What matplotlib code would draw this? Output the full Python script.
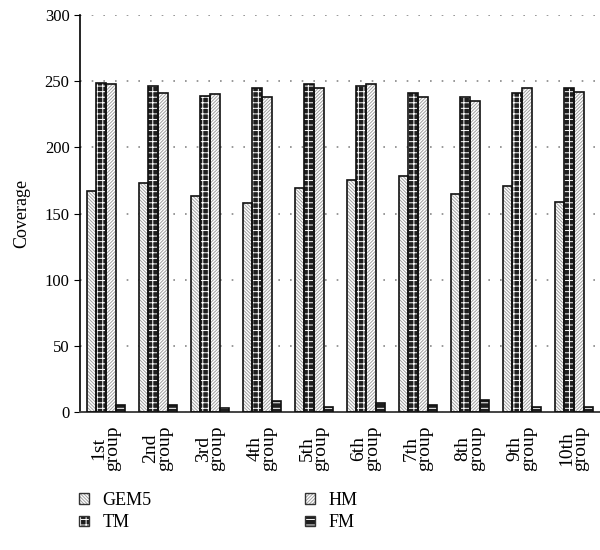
import matplotlib.pyplot as plt
import numpy as np
from matplotlib.patches import Patch
from matplotlib.legend_handler import HandlerTuple

plt.rcParams['font.family'] = ['Liberation Serif', 'DejaVu Serif']
plt.rcParams['hatch.linewidth'] = 0.7

groups = ['1st\ngroup', '2nd\ngroup', '3rd\ngroup', '4th\ngroup', '5th\ngroup',
          '6th\ngroup', '7th\ngroup', '8th\ngroup', '9th\ngroup', '10th\ngroup']
gem5 = [167, 173, 163, 158, 169, 175, 178, 165, 171, 159]
tm = [249, 246, 239, 245, 248, 246, 241, 238, 241, 245]
hm = [248, 241, 240, 238, 245, 248, 238, 235, 245, 242]
fm = [5, 5, 3, 8, 4, 7, 5, 9, 4, 4]

series = [
    ('GEM5', gem5, 'white', '#a0a0a0', '\\' * 10),
    ('TM', tm, '#1e1e1e', 'white', '+++'),
    ('HM', hm, 'white', '#a0a0a0', '/' * 10),
    ('FM', fm, '#1e1e1e', 'white', '---'),
]

fig = plt.figure(figsize=(6, 5.5), dpi=100)
ax = fig.add_axes([0.1333, 0.2509, 0.8667, 0.7218])

x = np.arange(len(groups))
w = 0.185
handles = []
for i, (name, vals, fc, hc, hatch) in enumerate(series):
    pos = x + (i - 1.5) * w
    # hatch layer first, then a plain outline on top
    ax.bar(pos, vals, w, facecolor=fc, edgecolor=hc, hatch=hatch, linewidth=0, zorder=2)
    ax.bar(pos, vals, w, facecolor='none', edgecolor='#111111', linewidth=1.2, zorder=3)
    handles.append((Patch(facecolor=fc, edgecolor=hc, hatch=hatch, linewidth=0),
                    Patch(facecolor='none', edgecolor='#333333', linewidth=1.0)))

ax.set_xlim(-0.5, 9.5)
ax.set_ylim(0, 300)
ax.set_yticks(range(0, 301, 50))
ax.set_xticks(x)
ax.set_xticklabels(groups, rotation=90, fontsize=14, linespacing=0.75,
                   va='top', ha='center')
ax.tick_params(axis='x', length=0, pad=10)
ax.tick_params(axis='y', length=4, labelsize=12, direction='out')
ax.set_ylabel('Coverage', fontsize=13, labelpad=10)

ax.yaxis.grid(True, linestyle=(0, (1, 6)), color='#888888', linewidth=1.2)
ax.set_axisbelow(True)
for s in ['top', 'right']:
    ax.spines[s].set_visible(False)
ax.spines['left'].set_linewidth(1.2)
ax.spines['bottom'].set_linewidth(1.4)
ax.spines['bottom'].set_color('#444444')

fig.legend(handles, [s[0] for s in series], ncol=2, loc='upper left',
           bbox_to_anchor=(0.105, 0.135), frameon=False, fontsize=13,
           handlelength=0.55, handleheight=0.55, handletextpad=0.75,
           columnspacing=8.5, labelspacing=0.3,
           handler_map={tuple: HandlerTuple(ndivide=1, pad=0)})

fig.savefig('out.png', dpi=100, facecolor='white')
